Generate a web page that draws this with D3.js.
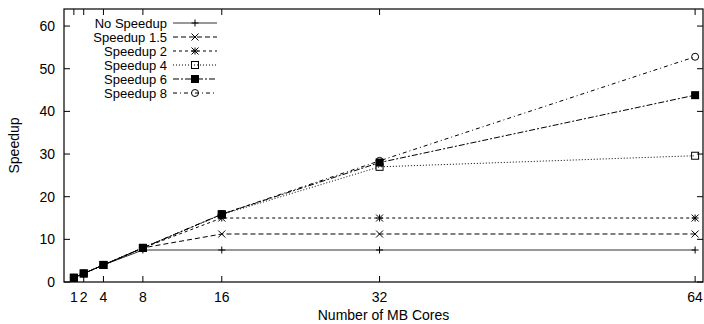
<!DOCTYPE html>
<html>
<head>
<meta charset="utf-8">
<script src="https://cdn.jsdelivr.net/npm/d3@7"></script>
<style>
  body { margin: 0; background: #fff; }
  text { font-family: "Liberation Sans", Arial, sans-serif; font-size: 14px; fill: #000; }
  .legend text { font-size: 13px; }
</style>
</head>
<body>
<div id="chart"></div>
<script>
// cores on the x axis
var cores = [1, 2, 4, 8, 16, 32, 64];
var xTicks = [1, 2, 4, 8, 16, 32, 64];
var yTicks = [0, 10, 20, 30, 40, 50, 60];

var seriesNames = ["No Speedup", "Speedup 1.5", "Speedup 2", "Speedup 4", "Speedup 6", "Speedup 8"];
var noSpeedup = [1, 2, 4, 7.5, 7.5, 7.5, 7.5];
var speedup15 = [1, 2, 4, 8, 11.25, 11.25, 11.25];
var speedup2 = [1, 2, 4, 8, 15, 15, 15];
var speedup4 = [1, 2, 4, 8, 15.8, 27, 29.6];
var speedup6 = [1, 2, 4, 8, 15.9, 28, 43.8];
var speedup8 = [1, 2, 4, 8, 15.9, 28.4, 52.8];

var allValues = [noSpeedup, speedup15, speedup2, speedup4, speedup6, speedup8];

// line style per series (gnuplot monochrome look)
var dashes = ["none", "5,3", "3,3", "1,2", "6,2,2,2", "4,3,1,3"];
var markers = ["plus", "cross", "star", "box", "fbox", "circle"];

var width = 704, height = 324;
var margin = {top: 9, right: 1, bottom: 42, left: 64};

var svg = d3.select("#chart").append("svg")
  .attr("width", width)
  .attr("height", height);

var x = d3.scaleLinear()
  .domain([0, 64.8])
  .range([margin.left, width - margin.right]);

var y = d3.scaleLinear()
  .domain([0, 64])
  .range([height - margin.bottom, margin.top]);

var x0 = x.range()[0], x1 = x.range()[1];
var y0 = y.range()[0], y1 = y.range()[1];
var tickLen = 6;

// bottom ticks + labels, mirrored at top
var xt = svg.append("g").attr("class", "x-ticks");
xTicks.forEach(function(t) {
  xt.append("line")
    .attr("x1", x(t)).attr("x2", x(t))
    .attr("y1", y0).attr("y2", y0 - tickLen)
    .attr("stroke", "#000");
  xt.append("line")
    .attr("x1", x(t)).attr("x2", x(t))
    .attr("y1", y1).attr("y2", y1 + tickLen)
    .attr("stroke", "#000");
  xt.append("text")
    .attr("x", x(t))
    .attr("y", y0 + 20)
    .attr("text-anchor", "middle")
    .text(t);
});

// left ticks + labels, mirrored at right
var yt = svg.append("g").attr("class", "y-ticks");
yTicks.forEach(function(t) {
  yt.append("line")
    .attr("x1", x0).attr("x2", x0 + tickLen)
    .attr("y1", y(t)).attr("y2", y(t))
    .attr("stroke", "#000");
  yt.append("line")
    .attr("x1", x1).attr("x2", x1 - tickLen)
    .attr("y1", y(t)).attr("y2", y(t))
    .attr("stroke", "#000");
  yt.append("text")
    .attr("x", x0 - 9)
    .attr("y", y(t) + 5)
    .attr("text-anchor", "end")
    .text(t);
});

// border
svg.append("rect")
  .attr("x", x0).attr("y", y1)
  .attr("width", x1 - x0).attr("height", y0 - y1)
  .attr("fill", "none")
  .attr("stroke", "#000")
  .attr("stroke-width", 1.2);

// axis titles
svg.append("text")
  .attr("x", (x0 + x1) / 2)
  .attr("y", height - 4)
  .attr("text-anchor", "middle")
  .text("Number of MB Cores");

svg.append("text")
  .attr("transform", "translate(19," + ((y0 + y1) / 2) + ") rotate(-90)")
  .attr("text-anchor", "middle")
  .text("Speedup");

function drawMarker(g, type, cx, cy) {
  var s = 3.5;
  if (type === "plus" || type === "star") {
    g.append("path")
      .attr("d", "M" + (cx - s) + "," + cy + "H" + (cx + s) + "M" + cx + "," + (cy - s) + "V" + (cy + s))
      .attr("stroke", "#000").attr("fill", "none");
  }
  if (type === "cross" || type === "star") {
    g.append("path")
      .attr("d", "M" + (cx - s) + "," + (cy - s) + "L" + (cx + s) + "," + (cy + s) +
        "M" + (cx - s) + "," + (cy + s) + "L" + (cx + s) + "," + (cy - s))
      .attr("stroke", "#000").attr("fill", "none");
  }
  if (type === "box") {
    g.append("rect")
      .attr("x", cx - s).attr("y", cy - s)
      .attr("width", 2 * s).attr("height", 2 * s)
      .attr("stroke", "#000").attr("fill", "none");
  }
  if (type === "fbox") {
    g.append("rect")
      .attr("x", cx - 4).attr("y", cy - 4)
      .attr("width", 8).attr("height", 8)
      .attr("fill", "#000");
  }
  if (type === "circle") {
    g.append("circle")
      .attr("cx", cx).attr("cy", cy).attr("r", s)
      .attr("stroke", "#000").attr("fill", "none");
  }
}

var line = d3.line()
  .x(function(d) { return x(d.c); })
  .y(function(d) { return y(d.v); });

allValues.forEach(function(vals, i) {
  var pts = cores.map(function(c, j) { return {c: c, v: vals[j]}; });
  var g = svg.append("g").attr("class", "series");
  g.append("path")
    .datum(pts)
    .attr("d", line)
    .attr("fill", "none")
    .attr("stroke", i === 0 ? "#333" : "#000")
    .attr("stroke-width", 1)
    .attr("stroke-dasharray", dashes[i]);
  pts.forEach(function(p) {
    drawMarker(g, markers[i], x(p.c), y(p.v));
  });
});

// legend
var legend = svg.append("g").attr("class", "legend");
seriesNames.forEach(function(name, i) {
  var ly = 23 + 14 * i;
  legend.append("text")
    .attr("x", 167)
    .attr("y", ly + 5)
    .attr("text-anchor", "end")
    .text(name);
  legend.append("line")
    .attr("x1", 173).attr("x2", 217)
    .attr("y1", ly).attr("y2", ly)
    .attr("stroke", i === 0 ? "#333" : "#000")
    .attr("stroke-dasharray", dashes[i]);
  drawMarker(legend, markers[i], 195, ly);
});
</script>
</body>
</html>
